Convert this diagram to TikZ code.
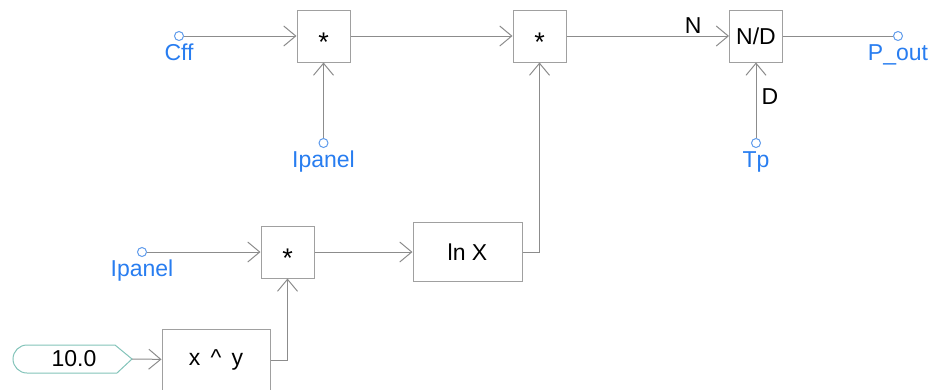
\documentclass[tikz,border=0pt]{standalone}
\usepackage{fontspec}
\setmainfont{Liberation Sans}
\usetikzlibrary{arrows.meta,positioning}

\definecolor{wiregray}{RGB}{140,140,140}
\definecolor{boxgray}{RGB}{160,160,160}
\definecolor{portblue}{RGB}{95,155,235}
\definecolor{labelblue}{RGB}{40,125,240}
\definecolor{constteal}{RGB}{130,195,185}

\tikzset{
  blk/.style={draw=boxgray,line width=1pt,minimum width=53pt,minimum height=52pt,inner sep=0pt,font=\fontsize{23}{26}\selectfont},
  port/.style={circle,draw=portblue,line width=1pt,minimum size=9pt,inner sep=0pt},
  porttext/.style={text=labelblue,inner sep=0pt,font=\fontsize{23}{26}\selectfont},
  edgetext/.style={inner sep=0pt,font=\fontsize{23}{26}\selectfont},
  wire/.style={draw=wiregray,line width=1pt,-{Straight Barb[length=12pt,width=20pt]}},
  plainwire/.style={draw=wiregray,line width=1pt},
}
\newcommand{\midstar}{\raisebox{-15pt}[0pt][0pt]{\fontsize{27}{30}\selectfont *}}

\begin{document}
\begin{tikzpicture}[x=1pt,y=-1pt]
\useasboundingbox (0,0) rectangle (933,389);

% blocks
\node [blk] (mula) at (323.5,36) {\midstar};
\node [blk] (mulb) at (539.5,36) {\midstar};
\node [blk] (div) at (756,36) {N/D};
\node [blk] (mulc) at (287.5,252) {\midstar};
\node [blk,minimum width=109pt,minimum height=59pt] (lnx) at (467.5,252) {ln X};
\node [blk,minimum width=108pt,minimum height=62pt] (pow) at (216,360) {x\,\ \textasciicircum\ \,y};

% ports
\node [port] (cff) at (179,36) {}; \node [porttext,below=3pt of cff] (cfftext) {Cff};
\node [port] (ipa) at (323.5,143) {}; \node [porttext,below=3pt of ipa] (ipatext) {Ipanel};
\node [port] (tp) at (756,143) {}; \node [porttext,below=3pt of tp] (tptext) {Tp};
\node [port] (pout) at (898,36) {}; \node [porttext,below=3pt of pout] (pouttext) {P\_out};
\node [port] (ipb) at (142,252) {}; \node [porttext,below=3pt of ipb] (ipbtext) {Ipanel};

% constant
\draw [constteal,line width=1pt] (27,345) -- (115,345) -- (132,359) -- (117,373) -- (27,373) arc [start angle=90, end angle=270, radius=14];
\node [edgetext] (cval) at (74,359) {10.0};
\coordinate (cout) at (132,359);

% connections
\draw [wire] (cff) -- (mula);
\draw [wire] (ipa) -- (mula);
\draw [wire] (mula) -- (mulb);
\draw [wire] (mulb) -- node [edgetext,pos=0.78,above=2pt] {N} (div);
\draw [plainwire] (div) -- (pout);
\draw [wire] (tp) -- node [edgetext,pos=0.55,right=5pt] {D} (div);
\draw [wire] (ipb) -- (mulc);
\draw [wire] (mulc) -- (lnx);
\draw [wire] (lnx) -| (mulb);
\draw [wire] (cout) -- (pow);
\draw [wire] (pow) -| (mulc);

\end{tikzpicture}
\end{document}
